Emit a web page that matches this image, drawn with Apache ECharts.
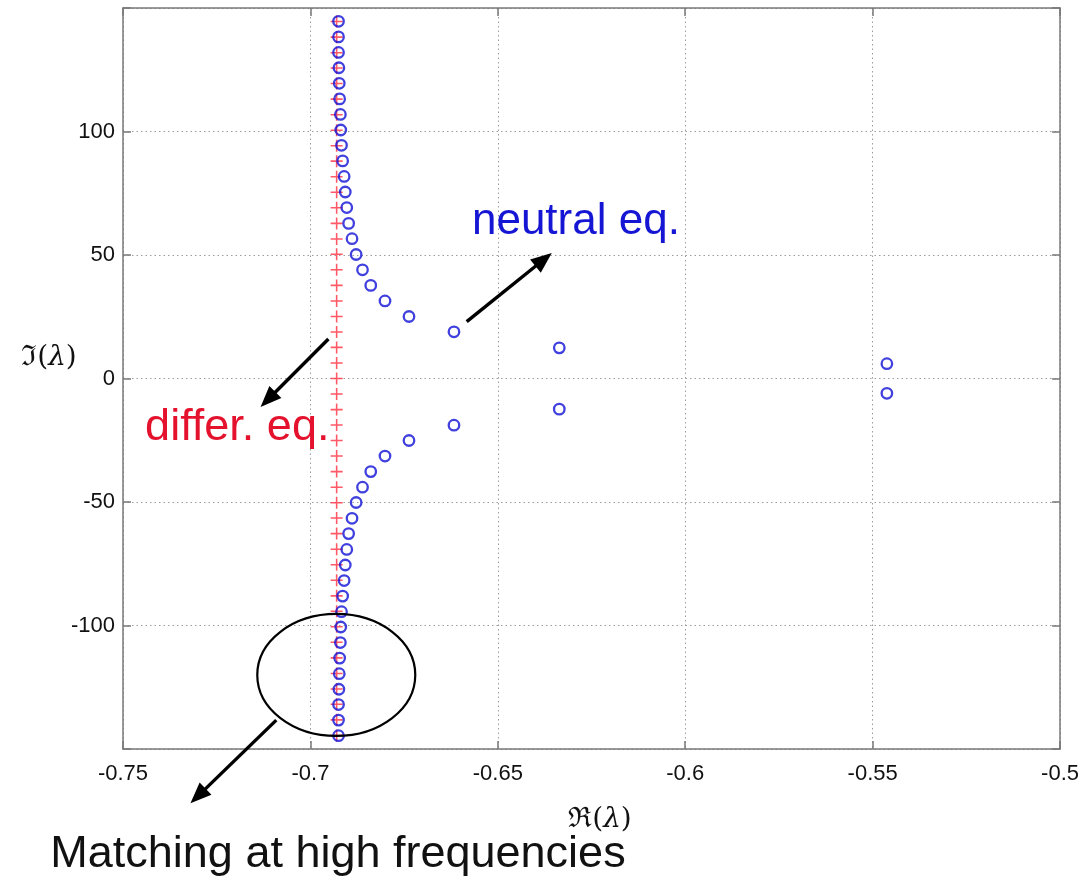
<!DOCTYPE html>
<html lang="en">
<head>
<meta charset="UTF-8">
<title>Roots: difference vs neutral equation</title>
<style>
  html, body { margin: 0; padding: 0; background: #fff; }
  #chart { width: 1082px; height: 882px; }
</style>
</head>
<body>
<div id="chart"></div>
<script src="https://cdn.jsdelivr.net/npm/echarts@6/dist/echarts.min.js"></script>
<script>
// roots of the difference equation (red +), all on one vertical line
var diffRe = -0.693;
var diffIm = [-144.5, -138.2, -131.9, -125.7, -119.4, -113.1, -106.8, -100.5, -94.2, -88.0,
              -81.7, -75.4, -69.1, -62.8, -56.5, -50.3, -44.0, -37.7, -31.4, -25.1,
              -18.8, -12.6, -6.3, 0, 6.3, 12.6, 18.8, 25.1, 31.4, 37.7,
              44.0, 50.3, 56.5, 62.8, 69.1, 75.4, 81.7, 88.0, 94.2, 100.5,
              106.8, 113.1, 119.4, 125.7, 131.9, 138.2, 144.5];

// roots of the neutral equation (blue o)
var neutRe = [-0.6925, -0.6925, -0.6925, -0.6924, -0.6923, -0.6922, -0.6920, -0.6919, -0.6917, -0.6914,
              -0.6910, -0.6907, -0.6903, -0.6898, -0.6889, -0.6878, -0.6861, -0.6839, -0.6801, -0.6737,
              -0.6617, -0.6336, -0.5462,
              -0.5462, -0.6336, -0.6617, -0.6737, -0.6801, -0.6839, -0.6861, -0.6878, -0.6889, -0.6898,
              -0.6903, -0.6907, -0.6910, -0.6914, -0.6917, -0.6919, -0.6920, -0.6922, -0.6923, -0.6924,
              -0.6925, -0.6925, -0.6925];
var neutIm = [144.6, 138.3, 132.0, 125.8, 119.5, 113.2, 106.9, 100.6, 94.4, 88.1,
              81.8, 75.5, 69.2, 62.8, 56.6, 50.2, 44.0, 37.7, 31.4, 25.1,
              18.9, 12.4, 6.0,
              -6.0, -12.4, -18.9, -25.1, -31.4, -37.7, -44.0, -50.2, -56.6, -62.8,
              -69.2, -75.5, -81.8, -88.1, -94.4, -100.6, -106.9, -113.2, -119.5, -125.8,
              -132.0, -138.3, -144.6];

var yTicks = [-100, -50, 0, 50, 100];

// annotation anchors, in data units
var arrows = [
  [[-0.6583, 23.0], [-0.6356, 50.8]],
  [[-0.6952, 16.0], [-0.7133, -11.5]],
  [[-0.7091, -138.3], [-0.7320, -172.0]]
];
var ringCenter = [-0.6931, -120.0];
var notes = [
  { text: 'neutral eq.', at: [-0.6569, 63.6], color: '#1515d4', size: 44 },
  { text: 'differ. eq.', at: [-0.7441, -19.8], color: '#e5122e', size: 45 },
  { text: 'Matching at high frequencies', at: [-0.7694, -192.7], color: '#111', size: 45 }
];

var diffData = diffIm.map(function (v) { return [diffRe, v]; });
var neutData = neutIm.map(function (v, i) { return [neutRe[i], v]; });

var axisGray = '#787878';
var gridLine = { show: true, lineStyle: { color: '#9c9c9c', type: [1.5, 3], width: 1 } };
var tickFont = { color: '#111', fontSize: 22, fontFamily: '"Liberation Sans", Arial, sans-serif' };

var chart = echarts.init(document.getElementById('chart'));

var option = {
  animation: false,
  backgroundColor: '#fff',
  grid: { left: 123, right: 19, top: 8, bottom: 133 },
  xAxis: [{
    type: 'value', min: -0.75, max: -0.5, interval: 0.05,
    axisLine: { show: true, onZero: false, lineStyle: { color: axisGray, width: 1.5 } },
    axisTick: { show: true, inside: true, length: 8, lineStyle: { color: axisGray, width: 1.5 } },
    axisLabel: Object.assign({ margin: 14, showMinLabel: true, showMaxLabel: true,
      formatter: function (v) { return String(+v.toFixed(2)); } }, tickFont),
    splitLine: gridLine
  }, {
    type: 'value', position: 'top', min: -0.75, max: -0.5, interval: 0.05,
    axisLine: { show: true, onZero: false, lineStyle: { color: axisGray, width: 1.5 } },
    axisTick: { show: true, inside: true, length: 8, lineStyle: { color: axisGray, width: 1.5 } },
    axisLabel: { show: false }, splitLine: { show: false }
  }],
  yAxis: [{
    type: 'value', min: -150, max: 150, interval: 50,
    axisLine: { show: true, onZero: false, lineStyle: { color: axisGray, width: 1.5 } },
    axisTick: { show: true, inside: true, length: 8, lineStyle: { color: axisGray, width: 1.5 } },
    axisLabel: Object.assign({ margin: 8,
      formatter: function (v) { return yTicks.indexOf(v) >= 0 ? String(v) : ''; } }, tickFont),
    splitLine: gridLine
  }, {
    type: 'value', position: 'right', min: -150, max: 150, interval: 50,
    axisLine: { show: true, onZero: false, lineStyle: { color: axisGray, width: 1.5 } },
    axisTick: { show: true, inside: true, length: 8, lineStyle: { color: axisGray, width: 1.5 } },
    axisLabel: { show: false }, splitLine: { show: false }
  }],
  series: [{
    name: 'differ. eq.',
    type: 'scatter',
    symbol: 'path://M8.7,0H11.3V8.7H20V11.3H11.3V20H8.7V11.3H0V8.7H8.7Z',
    symbolSize: 12,
    itemStyle: { color: '#ff2e40' },
    data: diffData,
    z: 3
  }, {
    name: 'neutral eq.',
    type: 'scatter',
    symbol: 'circle',
    symbolSize: 10.5,
    itemStyle: { color: 'rgba(0,0,0,0)', borderColor: '#1010d6', borderWidth: 2.3 },
    data: neutData,
    z: 4
  }]
};

chart.setOption(option);

function px(p) { return chart.convertToPixel({ seriesIndex: 0 }, p); }

function arrowShapes(a, b) {
  var p0 = px(a), p1 = px(b);
  var dx = p1[0] - p0[0], dy = p1[1] - p0[1];
  var len = Math.sqrt(dx * dx + dy * dy);
  var ux = dx / len, uy = dy / len;
  var hl = 21, hw = 8.5;
  var bx = p1[0] - ux * hl, by = p1[1] - uy * hl;
  return [{
    type: 'line', z: 50,
    shape: { x1: p0[0], y1: p0[1], x2: bx + ux * 2, y2: by + uy * 2 },
    style: { stroke: '#000', lineWidth: 3.4 }
  }, {
    type: 'polygon', z: 50,
    shape: { points: [[p1[0], p1[1]], [bx - uy * hw, by + ux * hw], [bx + uy * hw, by - ux * hw]] },
    style: { fill: '#000' }
  }];
}

var graphics = [];
arrows.forEach(function (a) { graphics = graphics.concat(arrowShapes(a[0], a[1])); });

var c = px(ringCenter);
graphics.push({
  type: 'ellipse', z: 50,
  shape: { cx: c[0], cy: c[1], rx: 79, ry: 61 },
  style: { fill: 'none', stroke: '#000', lineWidth: 2.2 }
});

notes.forEach(function (n) {
  var p = px(n.at);
  graphics.push({
    type: 'text', z: 60, x: p[0], y: p[1],
    style: {
      text: n.text, fill: n.color,
      font: n.size + 'px "Liberation Sans", Arial, sans-serif',
      align: 'left', verticalAlign: 'middle'
    }
  });
});

// axis names: Re(lambda) below, Im(lambda) at the left
var serif = '"DejaVu Serif", "Liberation Serif", serif';
function axisName(glyph, x, y) {
  return {
    type: 'text', z: 60, x: x, y: y,
    style: {
      text: '{f|' + glyph + '}{p|(}{l|\u03BB}{p|)}', align: 'center', verticalAlign: 'middle',
      rich: {
        f: { fontSize: 28, fontFamily: serif, fill: '#111' },
        p: { fontSize: 28, fontFamily: serif, fill: '#111' },
        l: { fontSize: 28, fontFamily: serif, fontStyle: 'italic', fill: '#111' }
      }
    }
  };
}
graphics.push(axisName('\u211C', 600, 820));
graphics.push(axisName('\u2111', 49, 358));

chart.setOption({ graphic: graphics });
</script>
</body>
</html>
